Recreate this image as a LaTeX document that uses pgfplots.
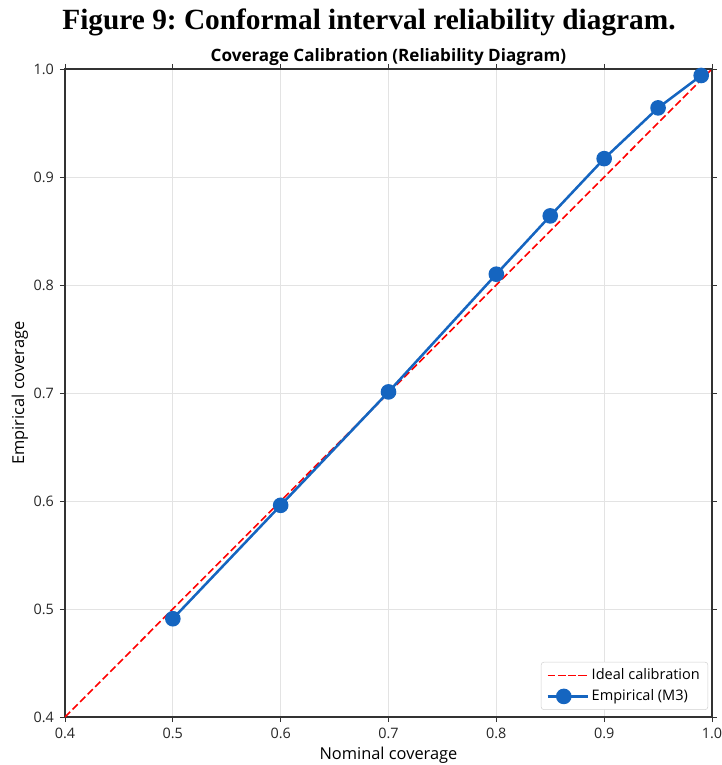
\documentclass[border=0pt]{standalone}
\usepackage{fontspec}
\setmainfont{Open Sans}
\newfontfamily\titlefont{Liberation Serif}
\usepackage{pgfplots}
\pgfplotsset{compat=1.18}
\definecolor{empblue}{HTML}{1565C0}
\definecolor{gridgray}{HTML}{E3E3E3}
\definecolor{framegray}{HTML}{333333}

\pgfplotsset{
    ideal leg/.style={legend image code/.code={
        \draw[red, line width=1.2pt, dash pattern=on 5pt off 2.5pt] (0pt,0pt) -- (24pt,0pt);
        \path (0pt,0pt) -- (30pt,0pt);}},
    emp leg/.style={legend image code/.code={
        \draw[empblue, line width=1.9pt] (0pt,0pt) -- (24pt,0pt);
        \fill[empblue] (12pt,0pt) circle[radius=4.9pt];
        \path (0pt,0pt) -- (30pt,0pt);}},
}

\begin{document}
\frenchspacing
\begin{tikzpicture}
\begin{axis}[
    scale only axis,
    width=485.25pt, height=486pt,
    xmin=0.4, xmax=1.0, ymin=0.4, ymax=1.0,
    xtick={0.4,0.5,0.6,0.7,0.8,0.9,1.0},
    ytick={0.4,0.5,0.6,0.7,0.8,0.9,1.0},
    /pgf/number format/assume math mode=true,
    /pgf/number format/fixed,
    /pgf/number format/fixed zerofill,
    /pgf/number format/precision=1,
    ticklabel style={font=\fontsize{10.8}{12}\selectfont, color=black!85},
    xticklabel style={yshift=-1pt},
    yticklabel style={xshift=-1pt},
    tick align=outside,
    major tick length=3.75pt,
    tick style={framegray, line width=0.6pt},
    axis line style={framegray, line width=0.9pt},
    grid=major,
    grid style={gridgray, line width=0.6pt},
    title={Coverage Calibration (Reliability Diagram)},
    title style={font=\fontsize{12.8}{14}\selectfont\bfseries, at={(axis description cs:0.5,1)}, anchor=center, yshift=3pt},
    xlabel={Nominal coverage},
    ylabel={Empirical coverage},
    xlabel style={font=\fontsize{12.3}{14}\selectfont, at={(axis description cs:0.5,-0.0586)}, anchor=center},
    ylabel style={font=\fontsize{12.3}{14}\selectfont, at={(axis description cs:-0.0696,0.5)}, anchor=center},
    legend style={at={(axis description cs:0.994,0.011)}, anchor=south east,
        draw=black!18, rounded corners=2pt, fill=white,
        font=\fontsize{10.9}{13}\selectfont, row sep=2pt,
        inner xsep=4pt, inner ysep=3pt},
    legend cell align=left,
]
\coordinate (bl) at (rel axis cs:0,0);
\coordinate (tr) at (rel axis cs:1,1);

\addplot[red, line width=1.2pt, dash pattern=on 5.5pt off 2.5pt, ideal leg]
    coordinates {(0.4,0.4) (1.0,1.0)};
\addlegendentry{Ideal calibration}

\addplot[empblue, line width=1.9pt, mark=*, mark size=4.9pt,
    mark options={solid, fill=empblue, draw=empblue}, emp leg]
    coordinates {
    (0.50,0.491) (0.60,0.596) (0.70,0.701) (0.80,0.810)
    (0.85,0.864) (0.90,0.917) (0.95,0.964) (0.99,0.994)
    };
\addlegendentry{Empirical (M3)}
\end{axis}

\node[font=\titlefont\fontsize{22}{24}\selectfont\bfseries, anchor=center]
    at ([shift={(228pt,35pt)}]bl |- tr) {Figure 9: Conformal interval reliability diagram.};

\pgfresetboundingbox
\path ([shift={(-48.75pt,-36pt)}]bl) rectangle ([shift={(7.5pt,51.75pt)}]tr);
\end{tikzpicture}
\end{document}
